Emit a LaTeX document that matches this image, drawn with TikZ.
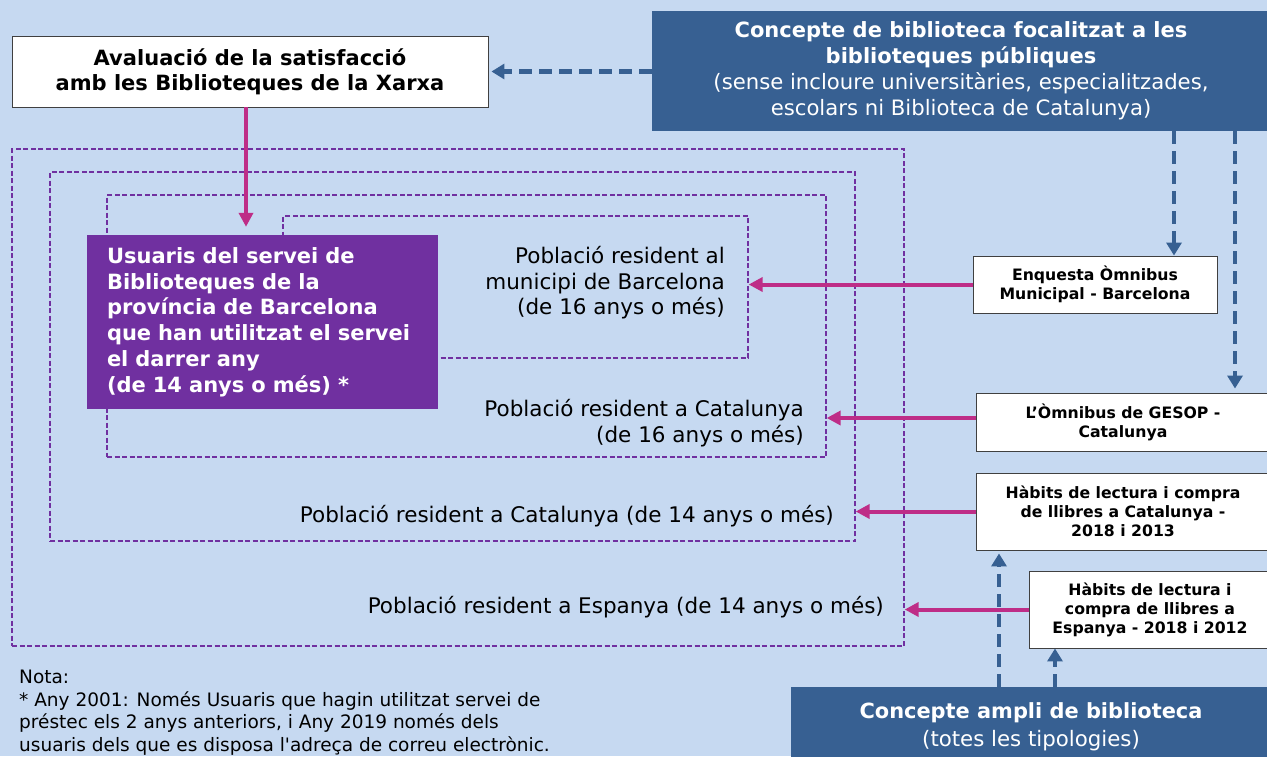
\documentclass[tikz,border=0pt]{standalone}
\usepackage{fontspec}
\setmainfont{DejaVu Sans}
\newfontfamily\notefont{DejaVu Sans}[Ligatures=TeXOff]
\usetikzlibrary{arrows.meta,fit}
\definecolor{bgblue}{HTML}{C6D9F1}
\definecolor{dblue}{HTML}{376092}
\definecolor{vpurple}{HTML}{7030A0}
\definecolor{mpink}{HTML}{BE2D87}
\begin{document}
\begin{tikzpicture}[x=1pt,y=-1pt,
  wbox/.style={draw=black!75, line width=0.9pt, fill=white, align=center, font=\bfseries\fontsize{15.7}{19}\selectfont, inner sep=0pt},
  bbox/.style={fill=dblue, text=white, align=center, inner sep=0pt},
  zone/.style={draw=vpurple, line width=1.3pt, dash pattern=on 5pt off 2.5pt, inner sep=0pt},
  lbl/.style={align=right, anchor=east, font=\fontsize{21.5}{25.5}\selectfont, inner sep=0pt, text=black},
  parrow/.style={draw=mpink, line width=4pt, -{Triangle[width=14pt,length=14pt]}},
  barrow/.style={draw=dblue, line width=4.5pt, dash pattern=on 13pt off 7pt, -{Triangle[width=15pt,length=13pt]}},
]
\useasboundingbox (0,0) rectangle (1267,756);
\fill[bgblue] (0,0) rectangle (1267,756);

% nested population zones
\coordinate (r1a) at (12,149);  \coordinate (r1b) at (904,646);
\coordinate (r2a) at (50,172);  \coordinate (r2b) at (855,541);
\coordinate (r3a) at (107,195); \coordinate (r3b) at (826,457);
\coordinate (r4a) at (283,216); \coordinate (r4b) at (748,358);
\node[zone, fit=(r1a)(r1b)] (r1) {};
\node[zone, fit=(r2a)(r2b)] (r2) {};
\node[zone, fit=(r3a)(r3b)] (r3) {};
\node[zone, fit=(r4a)(r4b)] (r4) {};

\node[lbl] (l4) at (725,283) {Població resident al\\ municipi de Barcelona\\ (de 16 anys o més)};
\node[lbl] (l3) at (804,423) {Població resident a Catalunya\\ (de 16 anys o més)};
\node[lbl] (l2) at (834,516) {Població resident a Catalunya (de 14 anys o més)};
\node[lbl] (l1) at (884,607.5) {Població resident a Espanya (de 14 anys o més)};

% users box
\node[fill=vpurple, text=white, minimum width=351pt, minimum height=174pt, text width=311pt, align=left, inner sep=0pt, font=\bfseries\fontsize{21}{25.8}\selectfont] (usr) at (262.5,322) {Usuaris del servei de\\ Biblioteques de la\\ província de Barcelona\\ que han utilitzat el servei\\ el darrer any\\ (de 14 anys o més) *};

% top boxes
\node[wbox, minimum width=476pt, minimum height=71pt, font=\bfseries\fontsize{21}{25}\selectfont] (aval) at (250,71.5) {Avaluació de la satisfacció\\ amb les Biblioteques de la Xarxa};
\node[bbox, minimum width=618pt, minimum height=120pt, font=\fontsize{21.2}{26}\selectfont] (con) at (961,71) {{\fontsize{21}{26}\selectfont\bfseries Concepte de biblioteca focalitzat a les}\\ {\fontsize{21}{26}\selectfont\bfseries biblioteques públiques}\\ (sense incloure universitàries, especialitzades,\\ escolars ni Biblioteca de Catalunya)};
\node[bbox, minimum width=480pt, minimum height=80pt, font=\fontsize{21.3}{28}\selectfont] (amp) at (1031,727) {{\fontsize{20.9}{28}\selectfont\bfseries Concepte ampli de biblioteca}\\ (totes les tipologies)};

% survey boxes
\node[wbox, minimum width=244pt, minimum height=57pt] (enq) at (1095,284.5) {Enquesta Òmnibus\\ Municipal - Barcelona};
\node[wbox, minimum width=294pt, minimum height=58pt] (ges) at (1123,422) {L’Òmnibus de GESOP -\\ Catalunya};
\node[wbox, minimum width=294pt, minimum height=77pt] (hcat) at (1123,511.5) {Hàbits de lectura i compra\\ de llibres a Catalunya -\\ 2018 i 2013};
\node[wbox, minimum width=242pt, minimum height=77pt] (hesp) at (1150,609.5) {Hàbits de lectura i\\ compra de llibres a\\ Espanya - 2018 i 2012};

% note
\node[anchor=north west, align=left, inner sep=0pt, font=\notefont\fontsize{18.5}{22.5}\selectfont] (nota) at (19,670) {Nota:\\ * Any 2001: Només Usuaris que hagin utilitzat servei de\\ préstec els 2 anys anteriors, i Any 2019 només dels\\ usuaris dels que es disposa l'adreça de correu electrònic.};

% connectors
\coordinate (xa) at (246,0);
\coordinate (xb) at (1174,0);
\coordinate (xc) at (1235,0);
\coordinate (xd) at (999,0);
\coordinate (xe) at (1055,0);
\draw[parrow, shorten >=8pt] (aval.south -| xa) -- (usr.north -| xa);
\draw[barrow, shorten >=3pt] (con.west |- aval.east) -- (aval.east);
\draw[parrow] (enq.west) -- (enq.west -| r4.east);
\draw[parrow] ([yshift=4pt]ges.west) -- ([yshift=4pt]ges.west -| r3.east);
\draw[parrow] (hcat.west) -- (hcat.west -| r2.east);
\draw[parrow] (hesp.west) -- (hesp.west -| r1.east);
\draw[barrow] (con.south -| xb) -- (enq.north -| xb);
\draw[barrow, shorten >=4pt] (con.south -| xc) -- (ges.north -| xc);
\draw[barrow, shorten >=3pt] (amp.north -| xd) -- (hcat.south -| xd);
\draw[barrow] (amp.north -| xe) -- (hesp.south -| xe);
\end{tikzpicture}
\end{document}
